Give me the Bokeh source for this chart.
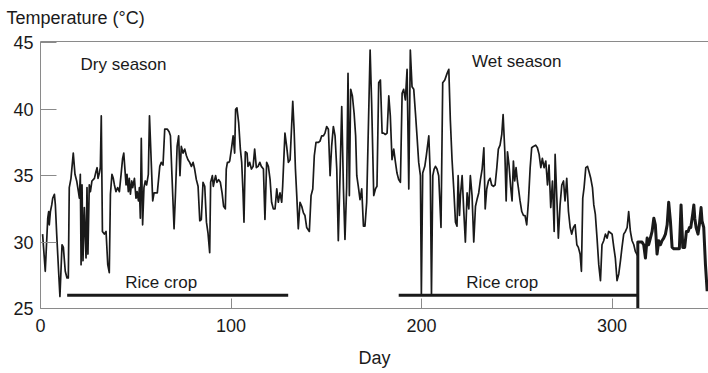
from bokeh.plotting import figure
from bokeh.models import Range1d, FixedTicker, LinearAxis
from bokeh.embed import file_html
from bokeh.resources import INLINE
from bokeh.core.properties import value

# ---- data ----
day_thin = [1.1, 2.5, 3.8, 4.3, 4.6, 5.2, 5.9, 6.4, 7.3, 7.8, 8.5, 9.5, 10.2, 11.3, 12.0, 13.0, 13.9, 14.6,
            15.1, 16.0, 17.2, 18.1, 19.0, 19.9, 20.4, 20.9, 21.3, 21.8, 22.3, 23.0, 23.9, 24.4, 24.9, 25.6,
            26.2, 27.0, 28.3, 29.1, 29.7, 30.2, 30.9, 31.4, 31.9, 32.5, 33.5, 34.4, 35.3, 36.1, 36.7, 37.5,
            38.2, 38.8, 39.6, 40.5, 41.4, 42.3, 43.1, 43.7, 44.4, 44.9, 45.4, 46.1, 46.6, 47.2, 47.9, 48.4,
            49.3, 50.1, 50.7, 51.4, 51.9, 52.4, 52.9, 53.6, 54.3, 55.0, 55.7, 56.6, 57.2,
            58.9, 59.6, 61.3, 62.6, 63.4, 64.3, 65.2, 66.6, 67.5, 68.2, 69.0, 70.1, 70.8, 71.7, 72.5, 73.2,
            73.9, 74.8, 75.7, 76.6, 77.4, 78.3, 79.2, 80.1, 80.9, 81.8, 82.7, 83.6, 84.4, 85.3, 86.2, 87.1,
            87.9, 88.8, 89.3, 90.2, 90.7, 91.4, 91.9, 92.6, 93.5, 94.4, 95.3, 96.1, 97.0, 97.5, 98.1, 98.8,
            99.3, 100.2, 101.1, 101.9, 102.4, 103.1, 104.0, 104.9, 105.6, 106.3, 106.8, 107.5, 108.4, 108.9,
            109.8, 110.7, 111.6, 112.4, 113.3, 114.2, 115.1, 115.9,
            117.0, 117.8, 118.7, 119.6, 120.5, 121.3, 122.2, 123.1, 124.0, 124.8, 125.7, 126.6, 127.1, 128.3,
            129.2, 130.1, 131.0, 132.4, 133.1, 133.8, 134.5, 135.3, 136.2, 137.1, 138.0, 138.8, 139.7, 141.1,
            142.0, 142.9, 143.7, 144.6, 145.8, 146.7, 147.6, 148.5, 149.3, 150.2, 151.1, 152.0, 152.8, 153.7,
            154.6, 155.5, 156.3, 157.2, 158.1, 159.0, 159.8, 160.7, 161.4, 162.1, 162.8, 163.7, 164.6, 165.4,
            166.0, 166.8, 167.7, 168.6, 169.5, 170.3, 171.2, 173.0, 173.8,
            174.9, 175.8, 176.6, 177.5, 178.4, 179.3, 180.1, 181.0, 181.9, 182.8, 183.6, 184.5, 185.4, 186.3,
            187.1, 188.0, 188.9, 189.8, 190.6, 191.5, 192.4, 193.3, 194.1, 195.0, 195.9, 196.8, 197.6, 198.5,
            199.4, 199.9, 200.6, 201.7, 202.5, 203.8, 204.6, 205.2, 205.9, 206.6, 207.3, 208.1, 209.0, 210.2,
            211.1, 212.2, 213.4, 214.3, 215.1, 216.0, 216.9, 217.8, 218.6, 219.2, 219.9, 220.4, 221.3, 222.1,
            223.0, 223.9, 224.8, 225.6, 226.5, 227.4, 228.3, 229.1, 230.0, 230.9, 231.8, 232.7, 233.4,
            234.2, 235.1, 236.0, 236.8, 237.7, 238.6, 239.5, 240.3, 241.2, 242.1, 242.8, 243.7, 244.4, 245.1,
            245.9, 246.8, 247.5, 248.2, 248.9, 249.6, 250.3, 250.8, 251.7, 252.6, 253.5, 254.3, 255.2, 256.1,
            257.0, 257.8, 258.7, 259.9, 260.8, 261.7, 262.6, 263.4, 264.3, 265.2, 266.1, 266.9, 267.8, 268.7,
            269.6, 270.1, 271.0, 271.8, 272.7, 273.6, 274.5, 275.3, 276.2, 277.1, 278.0, 278.8, 279.7, 280.6,
            281.5, 282.3, 283.2, 283.9, 284.6, 285.3, 286.2, 287.1, 287.9, 288.8, 289.7,
            290.4, 291.2, 292.1, 293.0, 293.9, 294.7, 295.6, 296.5, 297.4, 298.2, 299.1, 300.0, 300.9, 301.7,
            302.6, 303.5, 304.4, 305.2, 306.1, 307.0, 307.9, 308.7, 309.6, 310.5, 311.4, 312.2, 313.3]
temp_thin = [30.6, 27.8, 31.8, 32.3, 31.3, 32.3, 32.8, 33.3, 33.6, 32.8, 30.6, 27.8, 25.9, 29.8, 29.6, 27.8, 27.3, 27.3,
             34.1, 34.8, 36.7, 35.1, 34.6, 33.8, 33.3, 35.1, 28.3, 34.3, 28.6, 32.6, 28.8, 34.1, 29.1, 34.3,
             33.8, 34.6, 34.8, 35.3, 35.6, 34.8, 35.2, 35.6, 39.5, 30.8, 30.6, 30.8, 28.3, 27.7, 33.6, 35.1,
             34.8, 34.3, 33.8, 34.1, 33.8, 35.1, 36.3, 36.7, 35.3, 34.3, 35.1, 33.8, 34.8, 33.6, 34.6, 34.1,
             34.8, 33.3, 33.8, 33.1, 34.1, 31.8, 37.8, 31.3, 34.1, 34.6, 34.3, 35.1, 39.5,
             33.1, 33.7, 33.7, 35.7, 36.0, 35.8, 38.5, 38.5, 38.3, 38.0, 35.0, 31.0, 33.5, 37.2, 38.0, 35.0,
             37.2, 36.7, 37.0, 36.5, 36.2, 36.0, 35.7, 36.0, 35.5, 34.7, 34.2, 31.6, 31.7, 34.5, 34.2, 31.5,
             30.7, 29.2, 34.5, 35.0, 34.2, 34.7, 35.0, 34.5, 34.7, 34.5, 33.7, 32.7, 32.5, 35.5, 36.0, 36.0,
             36.1, 37.0, 38.0, 36.7, 40.0, 40.1, 39.0, 37.0, 36.0, 33.7, 31.5, 36.8, 36.7, 35.7,
             36.0, 35.5, 35.7, 37.0, 35.6, 35.7, 36.0, 35.7,
             35.5, 31.7, 36.0, 35.7, 34.7, 33.0, 32.5, 32.5, 34.0, 33.0, 33.7, 33.0, 34.2, 38.2,
             37.2, 36.0, 36.2, 40.6, 38.5, 35.5, 33.5, 31.0, 33.0, 32.7, 32.2, 32.0, 31.1, 30.8,
             33.5, 34.0, 36.5, 37.5, 37.5, 37.6, 38.0, 38.0, 38.2, 38.7, 38.5, 35.0, 37.2, 38.7,
             38.0, 35.5, 30.1, 35.0, 40.2, 34.0, 30.2, 34.2, 42.7, 33.5, 41.5, 41.0, 39.7, 38.0,
             35.0, 34.2, 33.2, 34.0, 31.2, 31.2, 33.0, 44.45, 40.5,
             33.5, 34.0, 34.2, 42.0, 42.2, 38.2, 38.2, 38.1, 38.2, 41.0, 39.5, 36.2, 37.0, 36.0,
             35.2, 34.7, 34.5, 41.2, 41.5, 40.7, 43.0, 34.0, 44.45, 41.7, 41.5, 39.7, 38.0, 36.0,
             35.0, 26.1, 35.2, 35.7, 36.5, 38.0, 35.0, 26.1, 35.0, 35.5, 35.7, 35.5, 35.0, 31.1,
             42.0, 42.2, 42.7, 43.0, 39.2, 36.2, 34.0, 31.5, 31.2, 35.0, 32.0, 33.5, 35.0, 32.5,
             30.0, 33.7, 32.5, 35.0, 33.5, 30.0, 32.7, 33.2, 33.7, 34.7, 35.5, 37.1, 32.5,
             34.0, 34.6, 34.8, 34.3, 34.2, 34.3, 35.6, 37.0, 37.3, 38.1, 39.6, 36.8, 33.1, 36.8,
             35.8, 34.1, 33.1, 36.1, 34.6, 35.6, 34.6, 34.1, 33.1, 32.3, 32.0, 32.0, 31.3, 33.1,
             35.6, 37.1, 37.2, 37.3, 37.1, 36.6, 35.6, 36.3, 35.6, 36.1, 34.3, 35.8, 32.6, 34.6,
             30.8, 36.6, 33.3, 30.3, 32.8, 34.3, 34.6, 33.1, 34.8, 32.3, 31.1, 30.6, 31.1, 31.3,
             29.8, 29.6, 29.1, 27.8, 33.3, 34.1, 35.6, 35.7, 35.3, 34.8, 34.1,
             32.8, 32.1, 30.3, 28.3, 27.1, 29.8, 30.1, 30.6, 30.3, 30.8, 30.7, 30.6, 29.6, 28.8,
             27.1, 27.6, 28.6, 29.6, 30.6, 30.8, 31.1, 32.3, 30.8, 30.1, 29.8, 29.3, 29.0]
day_thick = [313.5, 313.5, 315.7, 316.6, 317.5, 318.4, 319.2, 320.1, 321.0, 321.9, 322.7, 323.6, 324.5, 325.4,
             326.2, 327.1, 328.0, 328.9, 329.7, 330.6, 331.5, 332.4, 334.1, 335.3, 336.2, 337.1, 338.1, 339.0,
             339.9, 340.6, 341.3, 342.3, 342.9, 343.4, 344.1, 345.1, 345.8, 346.7, 347.2, 348.1, 349.0, 349.9]
temp_thick = [24.85, 30.0, 30.0, 29.8, 28.8, 30.3, 29.8, 30.3, 30.8, 31.8, 31.3, 29.1, 30.1, 29.8,
              30.1, 30.3, 30.6, 31.3, 33.0, 31.6, 29.6, 29.5, 29.5, 29.5, 32.8, 29.6, 29.6, 30.8,
              30.8, 31.1, 31.1, 32.1, 32.8, 31.8, 31.1, 30.6, 31.3, 32.6, 31.6, 31.1, 28.3, 26.3]
rice_start = [14, 188]
rice_end = [130, 313.6]
rice_level = [26, 26]
season_names = ["Dry season", "Wet season"]
crop_names = ["Rice crop", "Rice crop"]
y_ticks = [25, 30, 35, 40, 45]
x_ticks = [0, 100, 200, 300]
y_title = "Temperature (°C)"

FONT = "Liberation Sans"
INK = "#1a1a1a"
FRAME = "#8a8a8a"

p = figure(width=708, height=373, output_backend="svg", toolbar_location=None,
           x_range=Range1d(0, 350.6), y_range=Range1d(25, 45.1),
           min_border_left=40, min_border_right=0, min_border_top=40, min_border_bottom=65,
           title=y_title)
p.outline_line_color = None
p.grid.visible = False
p.background_fill_color = "white"
p.border_fill_color = "white"

p.title.text_font = FONT
p.title.text_font_size = "18px"
p.title.text_font_style = "normal"
p.title.text_color = INK
p.title.align = "left"
p.title.offset = -34

xa = p.below[0]
xa.ticker = FixedTicker(ticks=x_ticks)
xa.axis_line_color = FRAME
xa.major_tick_line_color = FRAME
xa.major_tick_in = 10
xa.major_tick_out = 0
xa.minor_tick_line_color = None
xa.major_label_text_font = FONT
xa.major_label_text_font_size = "18px"
xa.major_label_text_color = INK
xa.major_label_standoff = 10
xa.axis_label = "Day"
xa.axis_label_text_font = FONT
xa.axis_label_text_font_size = "18px"
xa.axis_label_text_font_style = "normal"
xa.axis_label_text_color = INK
xa.axis_label_standoff = 13

ya = p.left[0]
ya.ticker = FixedTicker(ticks=y_ticks)
ya.axis_line_color = FRAME
ya.major_tick_line_color = FRAME
ya.major_tick_in = 16
ya.major_tick_out = 0
ya.minor_tick_line_color = None
ya.major_label_text_font = FONT
ya.major_label_text_font_size = "18px"
ya.major_label_text_color = INK
ya.major_label_standoff = 7

# top frame line; its empty label only adds space under the title
top_axis = LinearAxis(ticker=FixedTicker(ticks=[]), axis_line_color=FRAME,
                      major_tick_line_color=None, minor_tick_line_color=None,
                      major_label_text_font_size="0px",
                      axis_label=" ", axis_label_text_font_size="5px", axis_label_standoff=0)
p.add_layout(top_axis, "above")

# rice crop periods
p.segment(x0=rice_start, y0=rice_level, x1=rice_end, y1=rice_level, line_color=INK, line_width=3)

# temperature series
p.line(day_thin, temp_thin, line_color=INK, line_width=1.7, line_join="round")
p.line(day_thick, temp_thick, line_color=INK, line_width=3, line_join="round")

# annotations
p.text(x=[21, 226.5], y=[43.4, 43.6], text=season_names, text_font=value(FONT),
       text_font_size="17px", text_color=INK, text_baseline="middle", text_align="left")
p.text(x=[44.5, 223.5], y=[26.95, 26.95], text=crop_names, text_font=value(FONT),
       text_font_size="17px", text_color=INK, text_baseline="middle", text_align="left")

open("out.html", "w").write(file_html(p, INLINE))
